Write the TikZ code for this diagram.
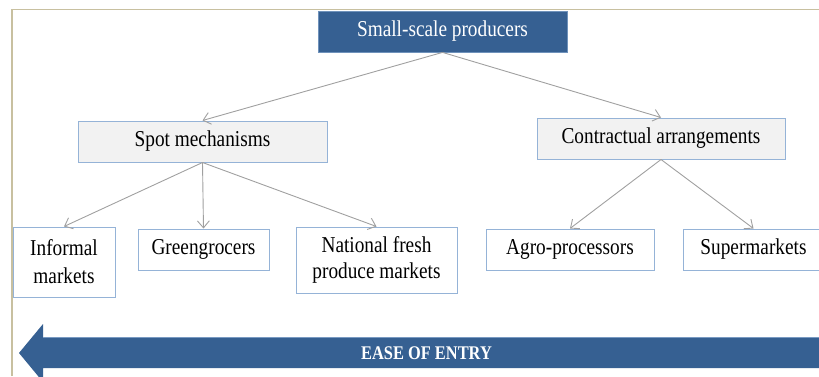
\documentclass[tikz,border=0pt]{standalone}
\usepackage{fontspec}
\setmainfont[FakeStretch=0.85]{Liberation Serif}
\usetikzlibrary{arrows.meta}
\definecolor{darkblue}{HTML}{366092}
\definecolor{edgeblue}{HTML}{95B3D7}
\definecolor{lightfill}{HTML}{F2F2F2}
\definecolor{framecol}{HTML}{C8C0A0}
\definecolor{conncol}{HTML}{A0A0A0}
\tikzset{
  every node/.style={font=\fontsize{22.7}{28}\selectfont, inner sep=0pt, align=center},
  topbox/.style={rectangle, draw=edgeblue!60!darkblue, fill=darkblue, text=white, line width=0.8pt},
  midbox/.style={rectangle, draw=edgeblue, fill=lightfill, line width=1pt},
  leafbox/.style={rectangle, draw=edgeblue, fill=white, line width=1pt},
  conn/.style={draw=conncol, line width=0.9pt, -{Straight Barb[length=7pt,width=12pt]}},
}
\begin{document}
\begin{tikzpicture}[x=1pt,y=-1pt]
\useasboundingbox (0,0) rectangle (819,376);
\clip (0,0) rectangle (819,376);
% frame
\draw[framecol, line width=1.6pt] (12,376) -- (12,9.5) -- (830,9.5);
% nodes
\node[topbox, minimum width=249pt, minimum height=41pt] (top) at (442.5,31.5) {Small-scale producers};
\node[midbox, minimum width=249pt, minimum height=41pt] (spot) at (202.5,141.5) {Spot mechanisms};
\node[midbox, minimum width=248pt, minimum height=41pt] (contr) at (661,138.5) {Contractual arrangements};
\node[leafbox, minimum width=102pt, minimum height=70pt] (inf) at (64,262) {Informal\\markets};
\node[leafbox, minimum width=131pt, minimum height=41pt] (green) at (203.5,249.5) {Greengrocers};
\node[leafbox, minimum width=161pt, minimum height=66pt, font=\fontsize{22.7}{25.5}\selectfont] (nat) at (376.5,260) {National fresh\\produce markets};
\node[leafbox, minimum width=168pt, minimum height=41pt] (agro) at (570,249.5) {Agro-processors};
\node[leafbox, minimum width=141pt, minimum height=41pt] (super) at (753.5,249.5) {Supermarkets};
% connectors
\draw[conn] (top.south) -- (spot.north);
\draw[conn] (top.south) -- (contr.north);
\draw[conn] (spot.south) -- (inf.north);
\draw[conn] (spot.south) -- (green.north);
\draw[conn] (spot.south) -- (nat.north);
\draw[conn] (contr.south) -- (agro.north);
\draw[conn] (contr.south) -- (super.north);
% ease of entry arrow
\fill[darkblue] (19,353) -- (43,324) -- (43,337.5) -- (830,337.5) -- (830,368) -- (43,368) -- (43,382) -- cycle;
\draw[edgeblue!70!darkblue, line width=0.6pt] (43,337.5) -- (830,337.5);
\node[font=\fontsize{19.3}{22}\selectfont\bfseries, text=white] (ease) at (426.5,353) {EASE OF ENTRY};
\end{tikzpicture}
\end{document}
